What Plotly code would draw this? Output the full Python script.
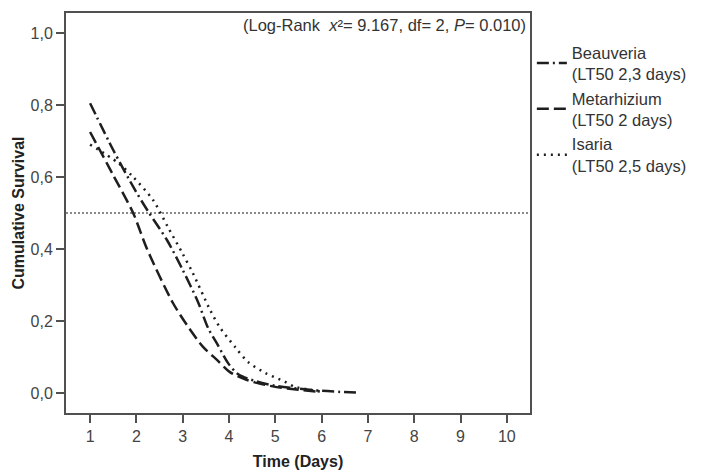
import plotly.graph_objects as go

# ---- data ----
beauveria_days = [1, 1.5, 1.97, 2.25, 2.66, 3.0, 3.33, 3.55, 3.76, 3.98, 4.2, 4.6, 5.0, 5.5, 6.0, 6.4, 6.83]
beauveria_surv = [0.805, 0.675, 0.564, 0.505, 0.425, 0.342, 0.253, 0.18, 0.133, 0.083, 0.052, 0.032, 0.02, 0.012, 0.006, 0.003, 0.001]

metarhizium_days = [1, 1.5, 1.93, 2.23, 2.79, 3.09, 3.44, 3.74, 4.02, 4.39, 4.6, 5.0, 5.5, 5.96]
metarhizium_surv = [0.725, 0.605, 0.5, 0.4, 0.25, 0.189, 0.128, 0.092, 0.058, 0.036, 0.028, 0.017, 0.009, 0.003]

isaria_days = [1, 1.6, 1.93, 2.36, 2.68, 2.99, 3.22, 3.59, 3.81, 4.13, 4.41, 4.78, 5.21, 5.42, 5.7, 6.0]
isaria_surv = [0.69, 0.64, 0.6, 0.536, 0.461, 0.389, 0.333, 0.231, 0.181, 0.128, 0.086, 0.056, 0.031, 0.017, 0.01, 0.003]

series_names = ["Beauveria<br>(LT50 2,3 days)", "Metarhizium<br>(LT50 2 days)", "Isaria<br>(LT50 2,5 days)"]

x_tick_vals = [1, 2, 3, 4, 5, 6, 7, 8, 9, 10]
x_tick_text = ["1", "2", "3", "4", "5", "6", "7", "8", "9", "10"]
y_tick_vals = [0.0, 0.2, 0.4, 0.6, 0.8, 1.0]
y_tick_text = ["0,0", "0,2", "0,4", "0,6", "0,8", "1,0"]

LT50_LEVEL = 0.5
stats_text = "(Log-Rank  <i>x</i>²= 9.167, df= 2, <i>P</i>= 0.010)"

FONT = "Liberation Sans, Arial, sans-serif"
INK = "#1e1e1e"

fig = go.Figure()

styles = [
    "12px,4px,2px,4px",   # Beauveria: dash-dot
    "12px,5px",           # Metarhizium: long dash
    "2px,5px",            # Isaria: dotted
]
data = [(beauveria_days, beauveria_surv), (metarhizium_days, metarhizium_surv), (isaria_days, isaria_surv)]

for (xs, ys), name, dash in zip(data, series_names, styles):
    fig.add_trace(go.Scatter(
        x=xs, y=ys, mode="lines", name=name,
        line=dict(color=INK, width=2.5, dash=dash, shape="spline", smoothing=0.8),
    ))

fig.add_shape(type="line", xref="paper", yref="y", x0=0, x1=1, y0=LT50_LEVEL, y1=LT50_LEVEL,
              line=dict(color="#8a8a8a", width=2, dash="2px,2px"), layer="below")

fig.add_annotation(text=stats_text, xref="paper", yref="paper", x=0.995, y=0.997,
                   xanchor="right", yanchor="top", showarrow=False,
                   font=dict(family=FONT, size=16.5, color="#333333"))

axis_common = dict(showgrid=False, zeroline=False, showline=True, linecolor="#505050", linewidth=2,
                   mirror=True, ticks="outside", ticklen=8, tickwidth=2, tickcolor="#505050",
                   automargin=False,
                   tickfont=dict(family=FONT, size=16, color="#444444"))

fig.update_xaxes(range=[0.48, 10.5], tickvals=x_tick_vals, ticktext=x_tick_text,
                 title=dict(text="<b>Time (Days)</b>", font=dict(family=FONT, size=16, color="#222222"), standoff=12),
                 **axis_common)
fig.update_yaxes(range=[-0.0556, 1.0556], tickvals=y_tick_vals, ticktext=y_tick_text,
                 title=dict(text="<b>Cumulative Survival</b>", font=dict(family=FONT, size=16, color="#222222"), standoff=2),
                 **axis_common)

# the page body adds an 8px offset, so the figure is sized/margined to compensate
fig.update_layout(
    width=697, height=463,
    margin=dict(l=58, r=175, t=5, b=58),
    paper_bgcolor="white", plot_bgcolor="white",
    font=dict(family=FONT, size=16, color="#333333"),
    legend=dict(x=1.004, y=0.945, xanchor="left", yanchor="top", itemwidth=30,
                font=dict(family=FONT, size=16.5, color="#333333"), tracegroupgap=0,
                bgcolor="rgba(0,0,0,0)"),
)

fig.write_html("out.html")
